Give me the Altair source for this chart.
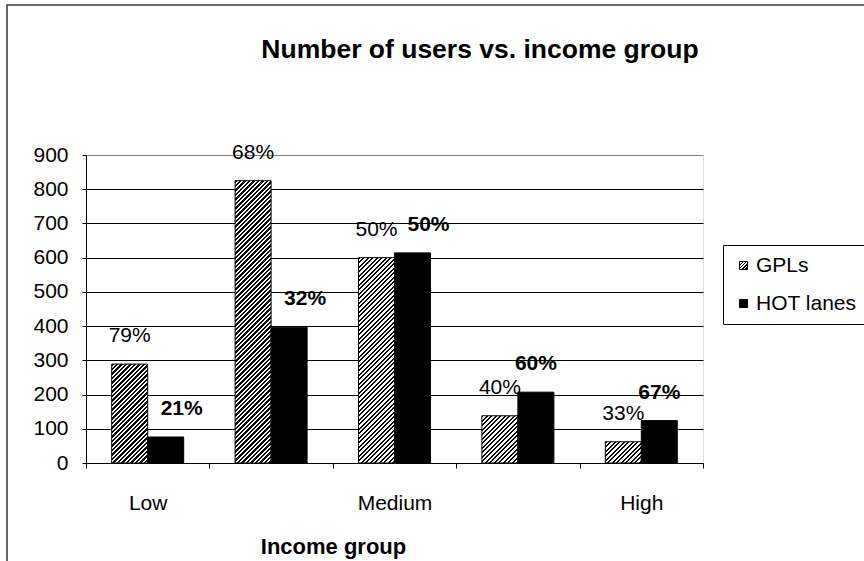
import json
import altair as alt

# ---------------- data ----------------
categories = ["Low", "Low-Medium", "Medium", "Medium-High", "High"]
shown_labels = ["Low", "Medium", "High"]
series = ["GPLs", "HOT lanes"]
gpl_users = [289, 825, 600, 138, 62]
hot_users = [76, 397, 614, 207, 124]
gpl_share = ["79%", "68%", "50%", "40%", "33%"]
hot_share = ["21%", "32%", "50%", "60%", "67%"]
y_ticks = [0, 100, 200, 300, 400, 500, 600, 700, 800, 900]

# ---------------- layout / style ----------------
FONT = "Liberation Sans"
PAD_L, PAD_T = 86, 155
PLOT_W, PLOT_H = 617, 308
Y_MAX = 900
OFFSET_PAD = 0.714
BAR_W = PLOT_W / len(categories) / (2 + 2 * OFFSET_PAD)
HATCH_P = 4.5


def hatch(h_px, w_px=BAR_W, period=HATCH_P, frac=0.5):
    """Diagonal '////' stripes as a linear gradient in bounding-box units."""
    L = w_px + h_px
    stops = []
    k = 0
    while k * period < L:
        o0 = round(k * period / L, 5)
        o1 = round(min((k + frac) * period / L, 1), 5)
        o2 = round(min((k + 1) * period / L, 1), 5)
        stops += [
            {"offset": o0, "color": "black"},
            {"offset": o1, "color": "black"},
            {"offset": o1, "color": "white"},
            {"offset": o2, "color": "white"},
        ]
        k += 1
    s = w_px ** 2 + h_px ** 2
    return {"gradient": "linear", "x1": 0, "y1": 0,
            "x2": round(w_px * L / s, 6), "y2": round(h_px * L / s, 6),
            "stops": stops}


rows = []
for i, c in enumerate(categories):
    rows.append({"cat": c, "series": series[0], "value": gpl_users[i],
                 "label": gpl_share[i], "idx": i,
                 "fill": hatch(gpl_users[i] * PLOT_H / Y_MAX)})
    rows.append({"cat": c, "series": series[1], "value": hot_users[i],
                 "label": hot_share[i], "idx": i, "fill": "black"})

legend_hatch = hatch(8, w_px=8, period=3.2)

base = alt.Chart(alt.Data(values=rows))

label_expr = ("indexof(" + json.dumps(shown_labels) +
              ", datum.value) >= 0 ? datum.value : ''")

x_enc = alt.X(
    "cat:N", sort=categories,
    scale=alt.Scale(domain=categories, paddingInner=0, paddingOuter=0),
    axis=alt.Axis(
        title="Income group", labelExpr=label_expr, labelAngle=0,
        labelOverlap=False, tickBand="extent", ticks=True, tickSize=5,
        tickColor="black", domainColor="black", domainWidth=1,
        labelFont=FONT, labelFontSize=21, labelColor="black", labelPadding=24,
        titleFont=FONT, titleFontSize=22, titleFontWeight="bold",
        titleColor="black", titlePadding=23, titleAlign="center",
        titleX=333 - PAD_L, grid=False),
)
xo_enc = alt.XOffset(
    "series:N", sort=series,
    scale=alt.Scale(domain=series, paddingInner=0, paddingOuter=OFFSET_PAD))
y_enc = alt.Y(
    "value:Q", scale=alt.Scale(domain=[0, Y_MAX], nice=False),
    axis=alt.Axis(
        title=None, values=y_ticks, tickSize=4, tickColor="black",
        domainColor="black", labelFont=FONT, labelFontSize=21,
        labelColor="black", labelPadding=14, grid=True,
        gridColor=alt.condition("datum.value == 900",
                                alt.value("#808080"), alt.value("black")),
        gridWidth=1))

bars = base.mark_bar(stroke="black", strokeWidth=1).encode(
    x=x_enc, xOffset=xo_enc, y=y_enc,
    fill=alt.Fill("fill:N", scale=None, legend=None))

legend_layer = base.transform_filter("false").mark_square().encode(
    x=x_enc, y=y_enc,
    color=alt.Color(
        "series:N",
        scale=alt.Scale(domain=series,
                        range=[alt.ExprRef(json.dumps(legend_hatch)), "black"]),
        legend=alt.Legend(
            title=None, orient="none", legendX=723 - PAD_L,
            legendY=245 - PAD_T,
            symbolType="square", symbolSize=64, symbolStrokeColor="black",
            symbolStrokeWidth=1, symbolOpacity=1, labelFont=FONT,
            labelFontSize=21, labelColor="black", labelOffset=2,
            rowPadding=16, padding=10, strokeColor="black",
            fillColor="white")))

gpl_text = base.transform_filter(alt.datum.series == series[0]).mark_text(
    font=FONT, fontSize=21, baseline="middle", dy=-28, color="black"
).encode(x=x_enc, xOffset=xo_enc, y=y_enc, text="label:N")

hot_text_shift = base.transform_filter(
    (alt.datum.series == series[1]) & (alt.datum.idx < 3)
).mark_text(font=FONT, fontSize=21, fontWeight="bold", baseline="middle",
            dy=-28, dx=16, color="black"
).encode(x=x_enc, xOffset=xo_enc, y=y_enc, text="label:N")

hot_text = base.transform_filter(
    (alt.datum.series == series[1]) & (alt.datum.idx >= 3)
).mark_text(font=FONT, fontSize=21, fontWeight="bold", baseline="middle",
            dy=-28, color="black"
).encode(x=x_enc, xOffset=xo_enc, y=y_enc, text="label:N")

frame = alt.Chart(alt.Data(values=[{"f": 1}])).mark_rect(
    fill=None, stroke="#333333", strokeWidth=1.5
).encode(x=alt.value(7 - PAD_L), y=alt.value(5 - PAD_T),
         x2=alt.value(960), y2=alt.value(600))

chart = alt.layer(frame, bars, legend_layer, gpl_text, hot_text_shift,
                  hot_text).properties(
    width=PLOT_W, height=PLOT_H,
    title=alt.TitleParams(
        "Number of users vs. income group", font=FONT, fontSize=26.5,
        fontWeight="bold", color="black", anchor="middle", frame="group",
        baseline="middle", offset=0,
        dx=480 - (PAD_L + PLOT_W / 2), dy=72),
    autosize=alt.AutoSizeParams(type="none"),
    padding={"left": PAD_L, "top": PAD_T, "right": 864 - PAD_L - PLOT_W,
             "bottom": 561 - PAD_T - PLOT_H},
).configure_view(stroke="#808080", strokeWidth=1).configure(background="white")

chart.save("out.html", embed_options={"renderer": "svg", "actions": False})
